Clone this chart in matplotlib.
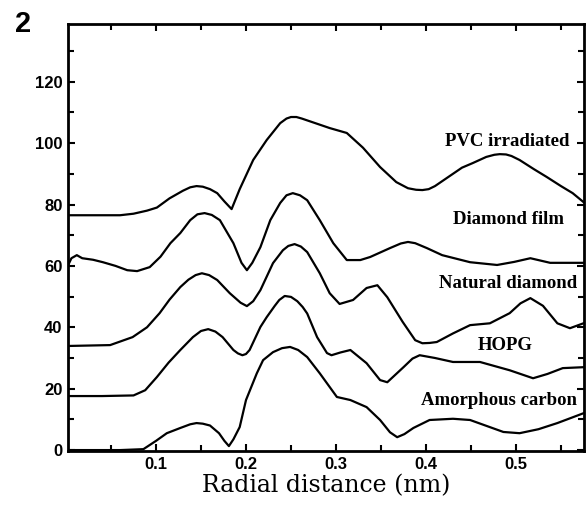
import matplotlib
matplotlib.use("Agg")
import matplotlib.pyplot as plt
from matplotlib.ticker import MultipleLocator
import numpy as np

# curves (radial distance in nm, arbitrary units)
pvc_x = [0.0, 0.03, 0.06, 0.075, 0.09, 0.101, 0.115, 0.13, 0.138, 0.145, 0.152, 0.16, 0.168,
         0.176, 0.184, 0.193, 0.208, 0.223, 0.238, 0.245, 0.25, 0.256, 0.262, 0.274, 0.293,
         0.312, 0.33, 0.349, 0.367, 0.38, 0.389, 0.396, 0.403, 0.41, 0.423, 0.44, 0.452,
         0.467, 0.476, 0.482, 0.489, 0.495, 0.504, 0.52, 0.534, 0.55, 0.563, 0.575]
pvc_y = [76.5, 76.5, 76.5, 77.0, 78.0, 79.0, 82.0, 84.5, 85.6, 86.0, 85.8, 85.0, 83.7,
         81.0, 78.5, 85.0, 94.5, 101.0, 106.5, 108.0, 108.5, 108.5, 108.0, 106.8, 104.9,
         103.3, 98.5, 92.2, 87.3, 85.3, 84.8, 84.7, 85.0, 86.0, 88.6, 92.0, 93.5,
         95.5, 96.2, 96.4, 96.3, 95.8, 94.5, 91.5, 89.0, 86.0, 83.7, 80.8]

film_x = [0.002, 0.006, 0.012, 0.018, 0.03, 0.041, 0.055, 0.068, 0.079, 0.093, 0.105, 0.116,
          0.127, 0.138, 0.146, 0.154, 0.162, 0.171, 0.186, 0.195, 0.201, 0.207, 0.216, 0.227,
          0.238, 0.245, 0.252, 0.26, 0.268, 0.282, 0.297, 0.312, 0.327, 0.338, 0.36, 0.372,
          0.38, 0.388, 0.401, 0.418, 0.449, 0.479, 0.498, 0.516, 0.538, 0.56, 0.575]
film_y = [60.0, 62.5, 63.5, 62.5, 62.0, 61.2, 60.0, 58.6, 58.3, 59.6, 63.0, 67.4,
          70.7, 74.9, 76.8, 77.2, 76.6, 74.9, 67.4, 61.0, 58.6, 61.0, 66.1, 74.9,
          80.5, 83.0, 83.7, 83.0, 81.4, 74.9, 67.4, 61.9, 61.9, 62.9, 65.8, 67.3,
          67.8, 67.4, 65.8, 63.5, 61.2, 60.3, 61.3, 62.5, 61.0, 61.0, 61.0]

nat_x = [0.0, 0.049, 0.074, 0.09, 0.104, 0.115, 0.127, 0.136, 0.144, 0.151, 0.159, 0.168,
         0.182, 0.194, 0.201, 0.208, 0.216, 0.23, 0.241, 0.247, 0.254, 0.261, 0.268, 0.282,
         0.293, 0.304, 0.319, 0.334, 0.346, 0.357, 0.374, 0.388, 0.396, 0.404, 0.412, 0.43,
         0.449, 0.471, 0.493, 0.505, 0.516, 0.53, 0.546, 0.56, 0.575]
nat_y = [33.9, 34.2, 36.8, 40.0, 44.6, 49.0, 53.1, 55.5, 57.0, 57.6, 57.0, 55.4,
         51.1, 48.0, 46.9, 48.5, 52.1, 60.9, 65.1, 66.5, 67.1, 66.3, 64.5, 57.6,
         51.1, 47.6, 48.9, 52.8, 53.7, 49.8, 41.8, 35.8, 34.8, 34.9, 35.2, 38.0,
         40.7, 41.3, 44.6, 47.8, 49.5, 47.0, 41.3, 39.7, 41.3]

hopg_x = [0.0, 0.04, 0.075, 0.088, 0.101, 0.114, 0.127, 0.141, 0.15, 0.158, 0.166, 0.174,
          0.186, 0.191, 0.196, 0.2, 0.204, 0.216, 0.223, 0.232, 0.237, 0.243, 0.25, 0.257,
          0.263, 0.268, 0.279, 0.29, 0.295, 0.305, 0.316, 0.334, 0.349, 0.357, 0.375, 0.385,
          0.393, 0.41, 0.43, 0.46, 0.493, 0.519, 0.535, 0.552, 0.575]
hopg_y = [17.6, 17.6, 17.8, 19.5, 23.8, 28.5, 32.6, 36.8, 38.8, 39.4, 38.6, 36.8,
          32.6, 31.5, 30.9, 31.3, 32.6, 40.1, 43.3, 47.0, 48.9, 50.2, 49.9, 48.5,
          46.6, 44.5, 36.8, 31.6, 30.9, 31.8, 32.6, 28.3, 22.8, 22.1, 27.0, 29.8,
          30.9, 30.0, 28.7, 28.7, 26.0, 23.4, 24.8, 26.7, 27.0]

amo_x = [0.0, 0.06, 0.086, 0.1, 0.112, 0.127, 0.138, 0.145, 0.152, 0.16, 0.17, 0.176,
         0.181, 0.186, 0.193, 0.2, 0.212, 0.219, 0.23, 0.24, 0.249, 0.258, 0.268, 0.282,
         0.301, 0.316, 0.334, 0.349, 0.36, 0.368, 0.376, 0.386, 0.404, 0.43, 0.449, 0.486,
         0.504, 0.525, 0.546, 0.575]
amo_y = [0.0, 0.0, 0.3, 3.0, 5.5, 7.2, 8.4, 8.8, 8.6, 8.0, 5.5, 3.0,
         1.3, 3.5, 7.5, 16.3, 25.0, 29.3, 31.9, 33.2, 33.6, 32.6, 30.3, 25.0,
         17.3, 16.3, 14.0, 9.8, 5.8, 4.2, 5.2, 7.2, 9.8, 10.2, 9.8, 5.9,
         5.5, 6.8, 8.8, 12.0]

series = [(pvc_x, pvc_y), (film_x, film_y), (nat_x, nat_y), (hopg_x, hopg_y), (amo_x, amo_y)]

labels = ["PVC irradiated", "Diamond film", "Natural diamond", "HOPG", "Amorphous carbon"]
label_x = [0.56, 0.553, 0.568, 0.488, 0.568]
label_y = [100.5, 75.0, 54.4, 34.2, 16.3]

fig = plt.figure(figsize=(5.87, 5.05), dpi=100)
ax = fig.add_axes([68 / 587, 54 / 505, 516 / 587, 427 / 505])

for xs, ys in series:
    ax.plot(xs, ys, color="black", lw=1.6, solid_joinstyle="round")

for t, lx, ly in zip(labels, label_x, label_y):
    ax.text(lx, ly, t, ha="right" if t != "HOPG" else "center", va="center",
            family="Liberation Serif", fontweight="bold", fontsize=13.5)

ax.set_xlim(0.0022, 0.5756)
ax.set_ylim(-0.3, 138.8)
ax.xaxis.set_major_locator(MultipleLocator(0.1))
ax.xaxis.set_minor_locator(MultipleLocator(0.05))
ax.yaxis.set_major_locator(MultipleLocator(20))
ax.yaxis.set_minor_locator(MultipleLocator(10))
ax.set_yticks([0, 20, 40, 60, 80, 100, 120])
ax.tick_params(which="both", direction="in", top=True, right=True, width=1.5)
ax.tick_params(which="major", length=5, pad=4)
ax.tick_params(which="minor", length=4)
ax.set_xticks([0.1, 0.2, 0.3, 0.4, 0.5])
ax.set_xticklabels(["0.1", "0.2", "0.3", "0.4", "0.5"], family="Liberation Sans",
                   fontweight="bold", fontsize=12)
ax.set_yticklabels(["0", "20", "40", "60", "80", "100", "120"], family="Liberation Sans",
                   fontweight="bold", fontsize=12)
for s in ax.spines.values():
    s.set_linewidth(2)

ax.set_xlabel("Radial distance (nm)", family="DejaVu Serif", fontsize=17, labelpad=2)

fig.text(15 / 587, 1 - 10 / 505, "2", family="Liberation Sans", fontweight="bold",
         fontsize=21, ha="left", va="top")

fig.savefig("out.png", dpi=100)
